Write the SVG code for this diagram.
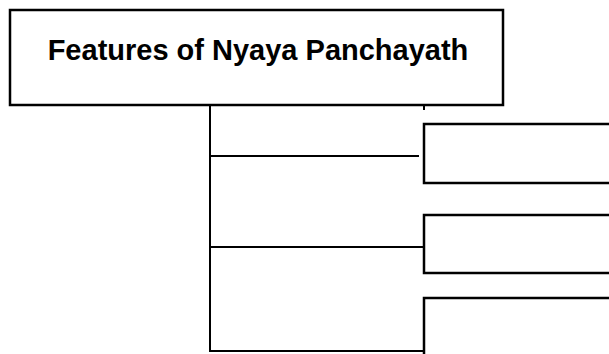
<svg xmlns="http://www.w3.org/2000/svg" width="609" height="354" viewBox="0 0 609 354">
<style>
.box{fill:#fff;stroke:#000;stroke-width:2.5}
.ln{fill:none;stroke:#000;stroke-width:2}
.title{font-family:"Liberation Sans",Arial,sans-serif;font-weight:bold;font-size:29px;fill:#000}
</style>
<rect width="609" height="354" fill="#fff"/>
<g id="connectors">
<path class="ln" d="M210 105 V351 H423"/>
<path class="ln" d="M210 156 H419"/>
<path class="ln" d="M210 247 H424"/>
<path class="ln" d="M424 105 V110"/>
</g>
<g id="node-main">
<rect class="box" x="10" y="10" width="493" height="95"/>
<text class="title" x="258" y="60" text-anchor="middle">Features of Nyaya Panchayath</text>
</g>
<g id="node-1">
<rect class="box" x="424" y="124" width="200" height="59"/>
</g>
<g id="node-2">
<rect class="box" x="424" y="215" width="200" height="58"/>
</g>
<g id="node-3">
<rect class="box" x="424" y="298" width="200" height="70"/>
</g>
</svg>
